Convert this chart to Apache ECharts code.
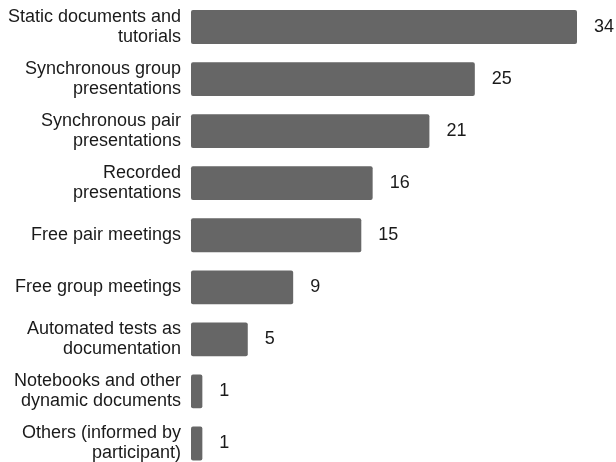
<!DOCTYPE html>
<html><head><meta charset="utf-8">
<script src="https://cdn.jsdelivr.net/npm/echarts@6/dist/echarts.min.js"></script>
<style>html,body{margin:0;padding:0;background:#fff}#c{width:616px;height:462px}</style>
</head><body><div id="c"></div>
<script>
const categories = [
  "Static documents and\ntutorials",
  "Synchronous group\npresentations",
  "Synchronous pair\npresentations",
  "Recorded\npresentations",
  "Free pair meetings",
  "Free group meetings",
  "Automated tests as\ndocumentation",
  "Notebooks and other\ndynamic documents",
  "Others (informed by\nparticipant)"
];
const values = [34, 25, 21, 16, 15, 9, 5, 1, 1];

const chart = echarts.init(document.getElementById('c'), null, {renderer: 'canvas'});
chart.setOption({
  animation: false,
  grid: {left: 191, right: 39, top: 1, height: 468.5, containLabel: false, outerBoundsMode: 'none'},
  xAxis: {type: 'value', min: 0, max: 34, show: false},
  yAxis: {
    type: 'category', data: categories, inverse: true,
    axisLine: {show: false}, axisTick: {show: false}, splitLine: {show: false},
    axisLabel: {margin: 10, fontFamily: 'Liberation Sans', fontSize: 18, color: '#1a1a1a', lineHeight: 20, align: 'right'}
  },
  series: [{
    type: 'bar', data: values, barCategoryGap: '35%',
    itemStyle: {color: '#666666', borderRadius: 2},
    label: {show: true, position: 'right', distance: 17, fontFamily: 'Liberation Sans', fontSize: 18, color: '#1a1a1a'}
  }]
});
</script></body></html>
